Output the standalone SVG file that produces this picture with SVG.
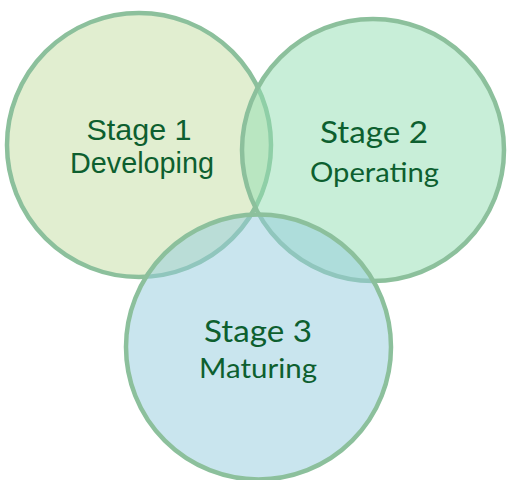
<svg xmlns="http://www.w3.org/2000/svg" width="507" height="480" viewBox="0 0 507 480">
  <style>
    .ring { stroke: #8CC09C; stroke-width: 4.5; fill-opacity: 0.5; }
    .label { fill: #0D5F2F; text-anchor: middle; }
    .arial { font-family: "Liberation Sans", Arial, sans-serif; }
    .humanist { font-family: Lato, "Open Sans", sans-serif; }
  </style>
  <rect width="507" height="480" fill="#FFFFFF"/>

  <g id="stage1">
    <circle class="ring" cx="139" cy="145" r="132" fill="#C3DDA1"/>
    <text class="label arial" x="139" y="140" font-size="30" textLength="105" lengthAdjust="spacingAndGlyphs">Stage 1</text>
    <text class="label arial" x="142" y="173" font-size="29" textLength="144" lengthAdjust="spacingAndGlyphs">Developing</text>
  </g>

  <g id="stage2">
    <circle class="ring" cx="373" cy="150" r="131" fill="#91DDB1"/>
    <text class="label humanist" x="374" y="143" font-size="31" textLength="108" lengthAdjust="spacingAndGlyphs">Stage 2</text>
    <text class="label humanist" x="374.5" y="182" font-size="27" textLength="129" lengthAdjust="spacingAndGlyphs">Operating</text>
  </g>

  <g id="stage3">
    <circle class="ring" cx="258.5" cy="347" r="132.5" fill="#93CBDD"/>
    <text class="label humanist" x="258" y="342" font-size="31" textLength="108" lengthAdjust="spacingAndGlyphs">Stage 3</text>
    <text class="label humanist" x="258" y="378" font-size="27" textLength="118" lengthAdjust="spacingAndGlyphs">Maturing</text>
  </g>

  <g id="connectors"></g>
</svg>
